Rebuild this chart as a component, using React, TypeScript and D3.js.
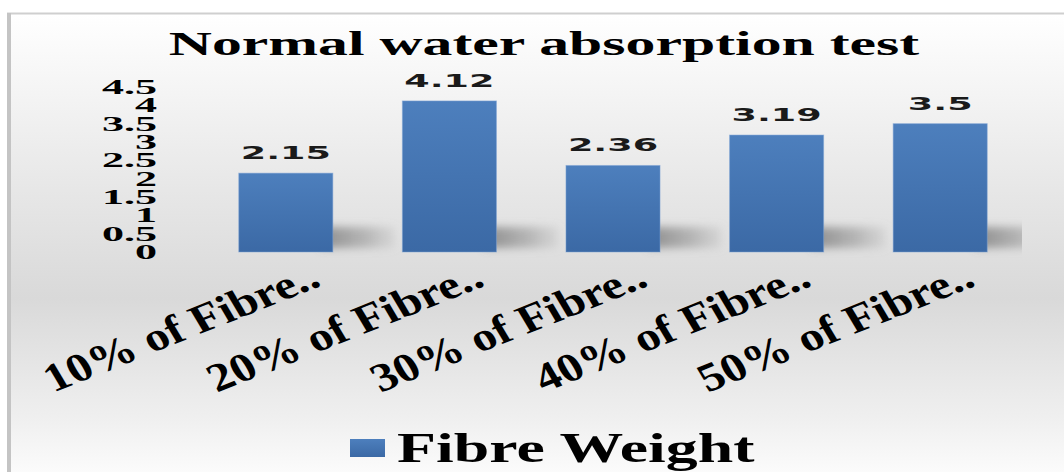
import React from 'react';
import * as d3 from 'd3';

// values
const categories = ['10% of Fibre..', '20% of Fibre..', '30% of Fibre..', '40% of Fibre..', '50% of Fibre..'];
const fibreWeight = [2.15, 4.12, 2.36, 3.19, 3.5];
const yTicks = [0, 0.5, 1, 1.5, 2, 2.5, 3, 3.5, 4, 4.5];
const titleText = 'Normal water absorption test';
const seriesName = 'Fibre Weight';

const W = 1064;
const H = 472;
const serif = '"Liberation Serif", "Times New Roman", serif';
const sans = '"DejaVu Sans", Verdana, sans-serif';

function App() {
  const x = d3.scaleBand<string>()
    .domain(categories)
    .range([204, 1022])
    .paddingInner(0.425)
    .paddingOuter(0.2125);
  const y = d3.scaleLinear().domain([0, 4.5]).range([252, 87]);
  const base = y(0);

  return (
    <svg width={W} height={H} style={{ position: 'absolute', left: 0, top: 0 }}>
      <defs>
        <linearGradient id="bg" x1="0" y1="0" x2="0" y2="1">
          <stop offset="0" stopColor="#ffffff" />
          <stop offset="0.3" stopColor="#ececec" />
          <stop offset="0.62" stopColor="#d9d9d9" />
          <stop offset="0.88" stopColor="#efefef" />
          <stop offset="1" stopColor="#fbfbfb" />
        </linearGradient>
        <linearGradient id="bar" x1="0" y1="0" x2="0" y2="1">
          <stop offset="0" stopColor="#4d7fbd" />
          <stop offset="1" stopColor="#3b69a5" />
        </linearGradient>
        <linearGradient id="shade" x1="0" y1="0" x2="1" y2="0">
          <stop offset="0" stopColor="#6e6e6e" stopOpacity={0.75} />
          <stop offset="0.6" stopColor="#8a8a8a" stopOpacity={0.5} />
          <stop offset="1" stopColor="#9a9a9a" stopOpacity={0.15} />
        </linearGradient>
        <filter id="blur" x="-30%" y="-100%" width="160%" height="300%">
          <feGaussianBlur stdDeviation="4" />
        </filter>
        <clipPath id="plot">
          <rect x={0} y={0} width={1022} height={H} />
        </clipPath>
      </defs>

      <rect x={0} y={0} width={W} height={H} fill="#fff" />
      <rect x={8} y={14} width={W - 8} height={H - 14} fill="url(#bg)" />
      <line x1={7} y1={13.5} x2={W} y2={13.5} stroke="#cfcfcf" strokeWidth={2} />
      <line x1={9} y1={13} x2={9} y2={H} stroke="#c4c4c4" strokeWidth={4} />

      {/* title */}
      <text
        transform={`translate(544,55) scale(1.81,1)`}
        textAnchor="middle"
        fontFamily={serif}
        fontWeight="bold"
        fontSize={33}
        fill="#000"
      >
        {titleText}
      </text>

      {/* y axis labels */}
      {yTicks.map(t => (
        <text
          key={t}
          transform={`translate(157,${y(t) + 7}) scale(2.1,1)`}
          textAnchor="end"
          fontFamily={serif}
          fontWeight="bold"
          fontSize={21}
          fill="#000"
        >
          {String(t)}
        </text>
      ))}

      {/* bar shadows */}
      <g clipPath="url(#plot)">
        {fibreWeight.map((v, i) => {
          const x1 = (x(categories[i]) as number) + x.bandwidth();
          return (
            <rect
              key={'s' + i}
              x={x1 - 12}
              y={base - 25}
              width={74}
              height={21}
              fill="url(#shade)"
              filter="url(#blur)"
            />
          );
        })}
      </g>

      {/* bars */}
      {fibreWeight.map((v, i) => (
        <rect
          key={'b' + i}
          x={x(categories[i])}
          y={y(v)}
          width={x.bandwidth()}
          height={base - y(v)}
          fill="url(#bar)"
          stroke="#7ea3d6"
          strokeOpacity={0.5}
          strokeWidth={1}
        />
      ))}

      {/* data labels */}
      {fibreWeight.map((v, i) => (
        <text
          key={'l' + i}
          transform={`translate(${(x(categories[i]) as number) + x.bandwidth() / 2},${y(v) - 14}) scale(2.03,1)`}
          textAnchor="middle"
          fontFamily={sans}
          fontWeight="bold"
          fontSize={18}
          fill="#1a1a1a"
        >
          {String(v)}
        </text>
      ))}

      {/* rotated category labels */}
      {categories.map(c => (
        <text
          key={c}
          transform={`translate(${(x(c) as number) + x.bandwidth() / 2 + 37},285) scale(1.22,1) rotate(-26)`}
          textAnchor="end"
          fontFamily={serif}
          fontWeight="bold"
          fontSize={40}
          fill="#000"
        >
          {c}
        </text>
      ))}

      {/* legend */}
      <rect x={350} y={439} width={35} height={18} fill="url(#bar)" />
      <text
        transform={`translate(397,462) scale(1.52,1)`}
        fontFamily={serif}
        fontWeight="bold"
        fontSize={42}
        fill="#000"
      >
        {seriesName}
      </text>
    </svg>
  );
}

export default App;
